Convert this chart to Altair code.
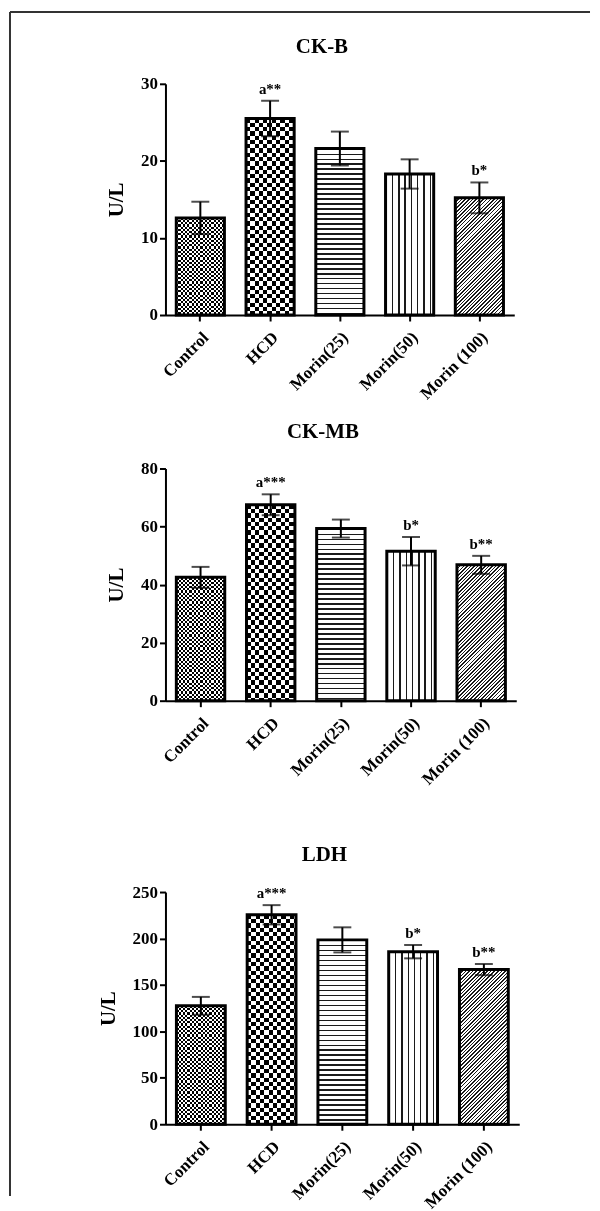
import altair as alt
import pandas as pd

# ---------------- data ----------------
groups = ["Control", "HCD", "Morin(25)", "Morin(50)", "Morin (100)"]

ckb_mean = [12.6, 25.5, 21.6, 18.3, 15.2]
ckb_sd = [2.1, 2.3, 2.2, 1.9, 2.0]
ckb_sig = ["", "a**", "", "", "b*"]

ckmb_mean = [42.5, 67.5, 59.3, 51.5, 46.8]
ckmb_sd = [3.6, 3.6, 3.1, 4.9, 3.1]
ckmb_sig = ["", "a***", "", "b*", "b**"]

ldh_mean = [127.5, 225.5, 198.5, 185.8, 166.5]
ldh_sd = [9.6, 10.4, 13.5, 7.2, 6.0]
ldh_sig = ["", "a***", "", "b*", "b**"]

panel_titles = ["CK-B", "CK-MB", "LDH"]
y_max = [30, 80, 250]
y_step = [10, 20, 50]
y_label = "U/L"

# ---------------- style ----------------
FONT = "Liberation Serif"
PLOT_H = [232, 233, 233]
PLOT_W = [350, 352, 355]
GAP = [154, 192]
PAD_IN = 0.31
INK = "#1a1a1a"


def stripes(length_px, period_px, on_px, on, off):
    st = []
    k = 0
    while True:
        a = k * period_px / length_px
        if a >= 1:
            break
        b = min((k * period_px + on_px) / length_px, 1.0)
        c = min((k + 1) * period_px / length_px, 1.0)
        st += [
            {"offset": round(a, 5), "color": on},
            {"offset": round(b, 5), "color": on},
            {"offset": round(b, 5), "color": off},
            {"offset": round(c, 5), "color": off},
        ]
        k += 1
    return st


def lin(x2, y2, stops):
    return {"gradient": "linear", "x1": 0, "y1": 0, "x2": x2, "y2": y2, "stops": stops}


def panel(idx, means, sds, sigs):
    ymax, ystep, H, W = y_max[idx], y_step[idx], PLOT_H[idx], PLOT_W[idx]
    df = pd.DataFrame({"group": groups, "mean": means, "sd": sds, "sig": sigs})
    df["lo"] = df["mean"] - df["sd"]
    df["hi"] = df["mean"] + df["sd"]

    xenc = alt.X(
        "group:N",
        sort=groups,
        scale=alt.Scale(paddingInner=PAD_IN, paddingOuter=PAD_IN / 2),
        axis=alt.Axis(title=None, labelAngle=-45, labelPadding=8),
    )
    yscale = alt.Scale(domain=[0, ymax], nice=False)
    yaxis = alt.Axis(title=y_label, values=list(range(0, ymax + 1, ystep)), titlePadding=14)

    base = alt.Chart(df)
    w = W / 5 * (1 - PAD_IN)
    layers = []

    def bar(g, fill, **kw):
        return (
            base.transform_filter(alt.datum.group == g)
            .mark_bar(fill=fill, strokeWidth=0, **kw)
            .encode(x=xenc, y=alt.Y("mean:Q", scale=yscale, axis=yaxis))
        )

    for g, m in zip(groups, means):
        h = m / ymax * H
        if g == "Control":
            c = 2.2
            layers.append(bar(g, lin(0, 1, stripes(h, 2 * c, c, "black", "white"))))
            layers.append(bar(g, lin(1, 0, stripes(w, 2 * c, c, "black", "white")), blend="difference"))
        elif g == "HCD":
            c = 4.3
            layers.append(bar(g, lin(0, 1, stripes(h, 2 * c, c, "black", "white"))))
            layers.append(bar(g, lin(1, 0, stripes(w, 2 * c, c, "black", "white")), blend="difference"))
        elif g == "Morin(25)":
            layers.append(bar(g, lin(0, 1, stripes(h, 5.0, 1.4, INK, "white"))))
        elif g == "Morin(50)":
            layers.append(bar(g, lin(1, 0, stripes(w, 6.3, 1.4, INK, "white"))))
        else:
            r = h / w
            gx = (1 + r) / (1 + r * r)
            gy = r * gx
            layers.append(bar(g, lin(gx, gy, stripes(w + h, 3.6, 1.5, INK, "white"))))

    outline = base.mark_bar(fillOpacity=0, stroke="black", strokeWidth=3).encode(
        x=xenc, y=alt.Y("mean:Q", scale=yscale, axis=yaxis)
    )
    err = base.mark_rule(color="black", strokeWidth=2).encode(
        x=xenc, y=alt.Y("lo:Q", scale=yscale, axis=yaxis), y2="hi:Q"
    )
    cap_hi = base.mark_tick(color="black", thickness=2, size=18).encode(
        x=xenc, y=alt.Y("hi:Q", scale=yscale, axis=yaxis)
    )
    cap_lo = base.mark_tick(color="black", thickness=2, size=18).encode(
        x=xenc, y=alt.Y("lo:Q", scale=yscale, axis=yaxis)
    )
    sig = base.mark_text(
        font=FONT, fontWeight="bold", fontSize=15, baseline="bottom", dy=-4, color="black"
    ).encode(x=xenc, y=alt.Y("hi:Q", scale=yscale, axis=yaxis), text="sig:N")

    layers += [outline, err, cap_hi, cap_lo, sig]

    return alt.layer(*layers).properties(
        width=W,
        height=H,
        title=alt.Title(
            panel_titles[idx], font=FONT, fontSize=21, fontWeight="bold", color="black",
            dx=-18, offset=18,
        ),
    )


one = alt.Chart(pd.DataFrame({"k": [0]}))

# spacer 1 also carries the figure frame (a decoration, not data)
frame_v = one.mark_rule(color="#333", strokeWidth=2).encode(
    x=alt.value(-156), y=alt.value(-304), y2=alt.value(884)
)
frame_h = one.mark_rule(color="#333", strokeWidth=2).encode(
    x=alt.value(-156), x2=alt.value(426), y=alt.value(-304)
)
spacer1 = alt.layer(frame_v, frame_h).properties(width=PLOT_W[0], height=GAP[0])
spacer2 = one.mark_rule(strokeOpacity=0).encode(
    x=alt.value(0), y=alt.value(0), y2=alt.value(1)
).properties(width=PLOT_W[0], height=GAP[1])

p1 = panel(0, ckb_mean, ckb_sd, ckb_sig)
p2 = panel(1, ckmb_mean, ckmb_sd, ckmb_sig)
p3 = panel(2, ldh_mean, ldh_sd, ldh_sig)

chart = (
    alt.vconcat(p1, spacer1, p2, spacer2, p3, spacing=0, bounds="flush")
    .properties(padding={"left": 0, "top": 0, "right": 0, "bottom": 0})
    .configure_view(stroke="transparent")
    .configure_axis(
        domainColor="black", domainWidth=2, tickColor="black", tickWidth=2, tickSize=6,
        labelColor="black", labelFont=FONT, labelFontWeight="bold", labelFontSize=17,
        titleFont=FONT, titleFontWeight="bold", titleFontSize=21, titleColor="black",
        grid=False,
    )
)

chart.save("out.html", embed_options={"renderer": "svg", "actions": False})
